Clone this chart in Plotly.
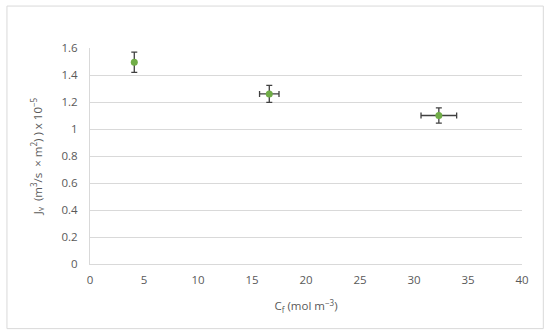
import plotly.graph_objects as go

cf = [4.1, 16.6, 32.3]
jv = [1.495, 1.26, 1.10]
cf_err = [0.0, 0.9, 1.65]
jv_err = [0.075, 0.063, 0.056]
x_ticks = [0, 5, 10, 15, 20, 25, 30, 35, 40]
y_ticks = [0, 0.2, 0.4, 0.6, 0.8, 1, 1.2, 1.4, 1.6]
y_tick_labels = ["0", "0.2", "0.4", "0.6", "0.8", "1", "1.2", "1.4", "1.6"]

fig = go.Figure()
fig.add_trace(go.Scatter(
    x=cf, y=jv, mode="markers",
    marker=dict(color="#70ad47", size=7),
    error_x=dict(type="data", array=cf_err, color="#404040", thickness=1.3, width=3, visible=True),
    error_y=dict(type="data", array=jv_err, color="#404040", thickness=1.3, width=3, visible=True),
    showlegend=False,
))

font = dict(family="Open Sans, Liberation Sans, sans-serif", size=11.5, color="#595959")
W, H = 550, 336
L, T = 90, 48
R = W - 521.7
B = H - 264.3
pw, ph = W - L - R, H - T - B

fig.update_layout(
    width=W, height=H,
    margin=dict(l=L, r=R, t=T, b=B),
    paper_bgcolor="white", plot_bgcolor="white",
    font=font,
    xaxis=dict(range=[0, 40], tickvals=x_ticks, showgrid=False, zeroline=False,
               showline=True, linecolor="#d9d9d9", linewidth=1, ticks="",
               ticklabelstandoff=5,
               title=dict(text="C<sub>f</sub> (mol m<sup>−3</sup>)", standoff=16, font=font)),
    yaxis=dict(range=[0, 1.6], tickvals=y_ticks, ticktext=y_tick_labels, showgrid=True,
               gridcolor="#d9d9d9", gridwidth=1, zeroline=False,
               showline=True, linecolor="#d9d9d9", linewidth=1, ticks="",
               ticklabelstandoff=9,
               title=dict(text="J<sub>v</sub>  (m<sup>3</sup>/s  × m<sup>2</sup>) ) x 10<sup>−5</sup>",
                          standoff=16, font=font)),
)

fig.add_shape(type="rect", xref="paper", yref="paper",
              x0=(7 - L) / pw, x1=(543 - L) / pw,
              y0=(H - B - 329) / ph, y1=(H - B - 6) / ph,
              line=dict(color="#d9d9d9", width=1), fillcolor="rgba(0,0,0,0)", layer="above")

fig.write_html("out.html", config={"displayModeBar": False},
               post_script="document.body.style.margin='0';document.body.style.overflow='hidden';")
